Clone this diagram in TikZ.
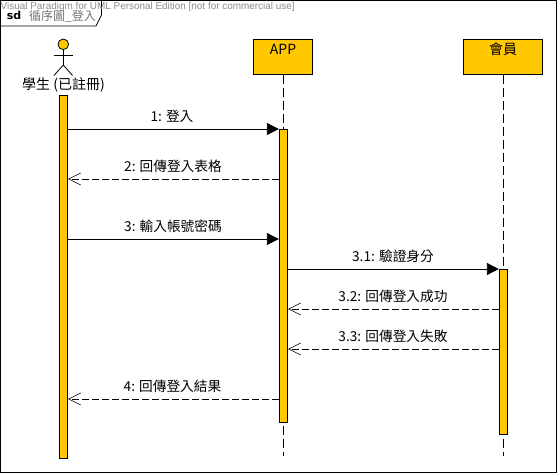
\documentclass[tikz,border=0pt]{standalone}
\usepackage{fontspec}
\setmainfont{DejaVu Sans}
\newfontfamily\cjkfont{Noto Sans CJK TC}
\newfontfamily\markfont{Liberation Sans}
\usetikzlibrary{arrows.meta}
\definecolor{barcolor}{RGB}{255,200,0}
\tikzset{
  headbox/.style={draw,fill=barcolor,minimum height=35pt,inner sep=0pt,line width=0.8pt},
  headtext/.style={inner sep=0pt,font=\fontsize{14}{16}\selectfont\cjkfont},
  actbar/.style={draw,fill=barcolor,minimum width=8.5pt,inner sep=0pt,line width=0.8pt},
  lifeline/.style={line width=0.8pt,dash pattern=on 9pt off 4pt},
  callmsg/.style={line width=0.8pt,-{Triangle[length=12pt,width=12pt]}},
  backmsg/.style={line width=0.8pt,dash pattern=on 7pt off 3pt,-{Straight Barb[length=12pt,width=12pt,line width=0.6pt]}},
  msgtext/.style={inner sep=0pt,font=\fontsize{13.7}{16}\selectfont\cjkfont}
}
\begin{document}
\begin{tikzpicture}[x=1pt,y=-1pt]
\useasboundingbox (0,0) rectangle (557,473);
\draw[line width=0.9pt,fill=white] (0.5,0.5) rectangle (556,472);
% frame tag
\draw[line width=0.8pt] (0.5,26) -- (96,26) -- (101.5,15) -- (101.5,0.5);
\node[inner sep=0pt,anchor=west,font=\fontsize{9.93}{12}\selectfont\markfont,text=black!45] (watermark) at (0.5,7) {Visual Paradigm for UML Personal Edition [not for commercial use]};
\node[inner sep=0pt,font=\fontsize{11}{13}\selectfont\bfseries] (sdtag) at (14,15.5) {sd};
\node[inner sep=0pt,anchor=west,font=\fontsize{12}{14}\selectfont\cjkfont,text=black!55] (sdname) at (29,16) {循序圖\_登入};
% actor
\draw[line width=0.8pt,fill=barcolor] (63.3,44.3) circle (5.3);
\coordinate (neck) at (63.3,49.6);
\coordinate (hip) at (63.3,65);
\draw[line width=0.8pt] (neck) -- (hip);
\draw[line width=0.8pt] (54,55) -- (72.5,55);
\draw[line width=0.8pt] (54,75.5) -- (hip) -- (72.5,75.5);
\node[inner sep=0pt,font=\fontsize{14}{16}\selectfont\cjkfont] (student) at (63.5,84.5) {學生 (已註冊)};
% heads
\node[headbox,minimum width=59pt] (app) at (283,56.8) {};
\node[headtext] at (283,49.5) {APP};
\node[headbox,minimum width=79pt] (member) at (503,56.8) {};
\node[headtext] at (503,49.5) {會員};
\coordinate (append) at (283,456);
\coordinate (memberend) at (503,456);
\draw[lifeline] (app) -- (append);
\draw[lifeline] (member) -- (memberend);
% bars
\node[actbar,minimum height=363pt] (studentbar) at (63.5,276.5) {};
\node[actbar,minimum height=293pt] (appbar) at (283.5,275.5) {};
\node[actbar,minimum height=165pt] (memberbar) at (503.5,351.5) {};
% messages
\coordinate (m1) at (0,129);
\coordinate (m2) at (0,179);
\coordinate (m3) at (0,239);
\coordinate (m31) at (0,269);
\coordinate (m32) at (0,309);
\coordinate (m33) at (0,349);
\coordinate (m4) at (0,399);
\draw[callmsg] (studentbar.east |- m1) -- (appbar.west |- m1);
\draw[backmsg] (appbar.west |- m2) -- (studentbar.east |- m2);
\draw[callmsg] (studentbar.east |- m3) -- (appbar.west |- m3);
\draw[callmsg] (appbar.east |- m31) -- (memberbar.west |- m31);
\draw[backmsg] (memberbar.west |- m32) -- (appbar.east |- m32);
\draw[backmsg] (memberbar.west |- m33) -- (appbar.east |- m33);
\draw[backmsg] (appbar.west |- m4) -- (studentbar.east |- m4);
\node[msgtext] (l1) at (172,116) {1: 登入};
\node[msgtext] (l2) at (173,166) {2: 回傳登入表格};
\node[msgtext] (l3) at (173,226) {3: 輸入帳號密碼};
\node[msgtext] (l31) at (393,256) {3.1: 驗證身分};
\node[msgtext] (l32) at (393,296) {3.2: 回傳登入成功};
\node[msgtext] (l33) at (393,336) {3.3: 回傳登入失敗};
\node[msgtext] (l4) at (172.5,386) {4: 回傳登入結果};
\end{tikzpicture}
\end{document}
